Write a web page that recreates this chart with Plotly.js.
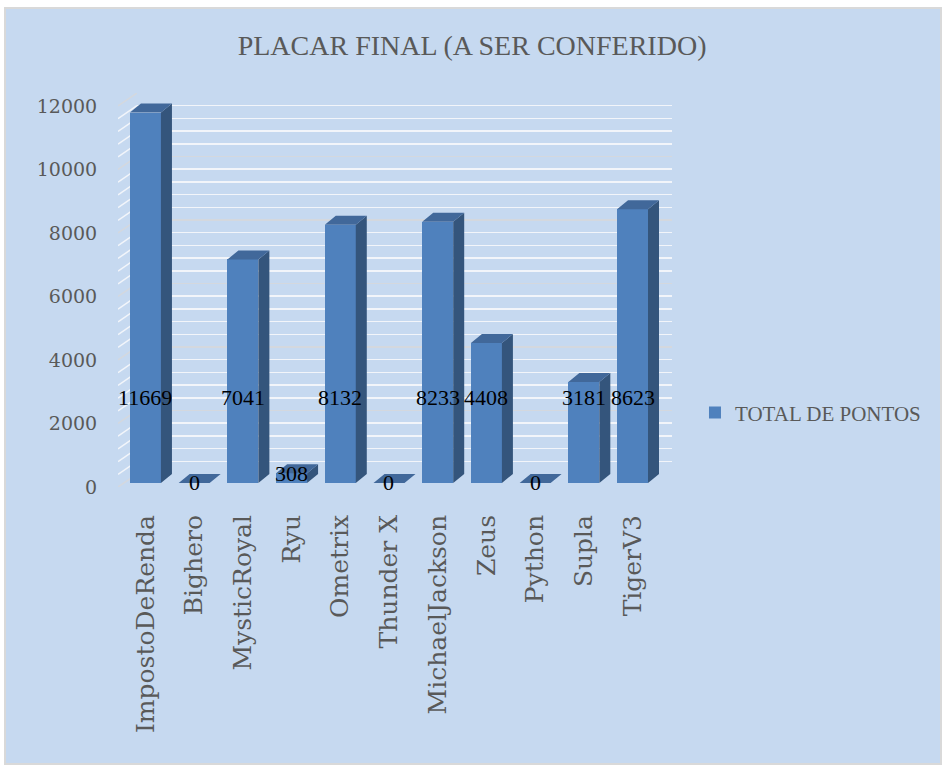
<!DOCTYPE html>
<html>
<head>
<meta charset="utf-8">
<script src="https://cdn.plot.ly/plotly-3.0.1.min.js"></script>
<style>
  html, body { margin: 0; padding: 0; background: #ffffff; overflow: hidden; }
  #frame { position: absolute; left: 4px; top: 7px; width: 934px; height: 754px; border: 2px solid #d9d9d9; background: #c6d9f0; }
  #chart { width: 934px; height: 754px; }
</style>
</head>
<body>
<div id="frame"><div id="chart"></div></div>
<script>
// ---- data ----
const categories = ["ImpostoDeRenda", "Bighero", "MysticRoyal", "Ryu", "Ometrix", "Thunder X", "MichaelJackson", "Zeus", "Python", "Supla", "TigerV3"];
const totalPontos = [11669, 0, 7041, 308, 8132, 0, 8233, 4408, 0, 3181, 8623];
const seriesName = "TOTAL DE PONTOS";
const chartTitle = "PLACAR FINAL (A SER CONFERIDO)";
const yTickValues = [0, 2000, 4000, 6000, 8000, 10000, 12000];
const yTickLabels = ["0", "2000", "4000", "6000", "8000", "10000", "12000"];

// ---- style constants ----
const FRONT = "#4f81bd", SIDE = "#34557c", TOP = "#41689a";
const GRID_MAJOR = "#d4d8de", GRID_MINOR = "#f2f5fa";
const TEXT_GRAY = "#595959";
const Y_MAX = 12000, MINOR_STEP = 400, MAJOR_STEP = 2000;
const PX_PER_UNIT = 381 / 12000;      // vertical scale of the plot
const HALF_W = 0.318;                 // half bar width, category units
const DEPTH_X = 0.226;                // 3D depth, category units
const DEPTH_Y = 9 / PX_PER_UNIT;      // 3D depth, value units
const WALL_SHIFT = 13 / PX_PER_UNIT;  // back-wall shift, value units
const LABEL_LEVEL = 2700;             // Excel-like data label level

const idx = categories.map((_, i) => i);

// 3D side and top faces derived from the data
const sideX = [], sideY = [], topX = [], topY = [];
idx.forEach(i => {
  const v = totalPontos[i];
  sideX.push(i + HALF_W, i + HALF_W + DEPTH_X, i + HALF_W + DEPTH_X, i + HALF_W, null);
  sideY.push(0, DEPTH_Y, v + DEPTH_Y, v, null);
  topX.push(i - HALF_W, i - HALF_W + DEPTH_X, i + HALF_W + DEPTH_X, i + HALF_W, null);
  topY.push(v, v + DEPTH_Y, v + DEPTH_Y, v, null);
});

// left wall diagonal grid lines
const diagMajX = [], diagMajY = [], diagMinX = [], diagMinY = [];
for (let g = 0; g <= Y_MAX; g += MINOR_STEP) {
  if (g % MAJOR_STEP === 0) { diagMajX.push(0, 1, null); diagMajY.push(g, g + WALL_SHIFT, null); }
  else { diagMinX.push(0, 1, null); diagMinY.push(g, g + WALL_SHIFT, null); }
}

const serif = "DejaVu Serif";
const serif2 = "Liberation Serif";

const traces = [
  // invisible trace so that the back-wall subplot is drawn
  { type: "scatter", x: [0.5], y: [Y_MAX / 2], xaxis: "x", yaxis: "y", mode: "markers",
    marker: { opacity: 0 }, showlegend: false, hoverinfo: "skip" },
  { type: "scatter", x: diagMinX, y: diagMinY, xaxis: "x2", yaxis: "y2", mode: "lines",
    line: { color: GRID_MINOR, width: 1.5 }, showlegend: false, hoverinfo: "skip" },
  { type: "scatter", x: diagMajX, y: diagMajY, xaxis: "x2", yaxis: "y2", mode: "lines",
    line: { color: GRID_MAJOR, width: 1.5 }, showlegend: false, hoverinfo: "skip" },
  { type: "bar", x: idx, y: totalPontos, name: seriesName, xaxis: "x3", yaxis: "y3",
    width: HALF_W * 2, marker: { color: FRONT, line: { width: 0 } } },
  { type: "scatter", x: sideX, y: sideY, xaxis: "x3", yaxis: "y3", mode: "lines", fill: "toself",
    fillcolor: SIDE, line: { width: 0, color: SIDE }, showlegend: false, hoverinfo: "skip" },
  { type: "scatter", x: topX, y: topY, xaxis: "x3", yaxis: "y3", mode: "lines", fill: "toself",
    fillcolor: TOP, line: { width: 0, color: TOP }, showlegend: false, hoverinfo: "skip" }
];

const annotations = idx.map(i => ({
  xref: "x3", yref: "y3", x: i, y: Math.min(totalPontos[i], LABEL_LEVEL),
  text: String(totalPontos[i]), showarrow: false, xanchor: "center", yanchor: "middle",
  font: { family: serif2, size: 22, color: "#000000" }
}));

const layout = {
  width: 934, height: 754,
  paper_bgcolor: "#c6d9f0", plot_bgcolor: "rgba(0,0,0,0)",
  margin: { l: 112, r: 268, t: 84, b: 276 },
  title: { text: chartTitle, x: 0.499, xref: "container", xanchor: "center",
           y: 0.952, yref: "container", yanchor: "middle",
           font: { family: serif2, size: 28, color: TEXT_GRAY } },
  showlegend: true,
  legend: { x: 1.0415, y: 0.188, xanchor: "left", yanchor: "middle",
            bgcolor: "rgba(0,0,0,0)", font: { family: serif2, size: 21, color: TEXT_GRAY } },
  // back wall
  xaxis: { domain: [0.0343, 1], range: [0, 1], showgrid: false, zeroline: false, showticklabels: false, showline: false },
  yaxis: { domain: [0.033, 1], range: [0, Y_MAX], anchor: "x", dtick: MAJOR_STEP, tick0: 0,
           showgrid: true, gridcolor: GRID_MAJOR, gridwidth: 1.5, zeroline: false, showticklabels: false, ticks: "",
           minor: { dtick: MINOR_STEP, tick0: 0, showgrid: true, gridcolor: GRID_MINOR, gridwidth: 1.5 } },
  // left wall with value labels
  xaxis2: { domain: [0, 0.0343], range: [0, 1], anchor: "y2", showgrid: false, zeroline: false, showticklabels: false, showline: false },
  yaxis2: { domain: [0, 1], range: [0, Y_MAX + WALL_SHIFT], anchor: "x2", tickvals: yTickValues, ticktext: yTickLabels,
            ticks: "outside", ticklen: 16, tickcolor: "rgba(0,0,0,0)", showgrid: false, zeroline: false,
            tickfont: { family: serif, size: 19, color: TEXT_GRAY } },
  // bars
  xaxis3: { domain: [0.0056, 0.9991], range: [-0.5, 10.8], anchor: "y3", tickvals: idx, ticktext: categories,
            tickangle: -90, ticks: "outside", ticklen: 21, tickcolor: "rgba(0,0,0,0)", showgrid: false, zeroline: false,
            tickfont: { family: serif, size: 25, color: TEXT_GRAY } },
  yaxis3: { domain: [0.0102, 0.977], range: [0, Y_MAX], anchor: "x3", showgrid: false, zeroline: false, showticklabels: false },
  annotations: annotations,
  bargap: 0
};

Plotly.newPlot("chart", traces, layout, { displayModeBar: false, staticPlot: true });
</script>
</body>
</html>
